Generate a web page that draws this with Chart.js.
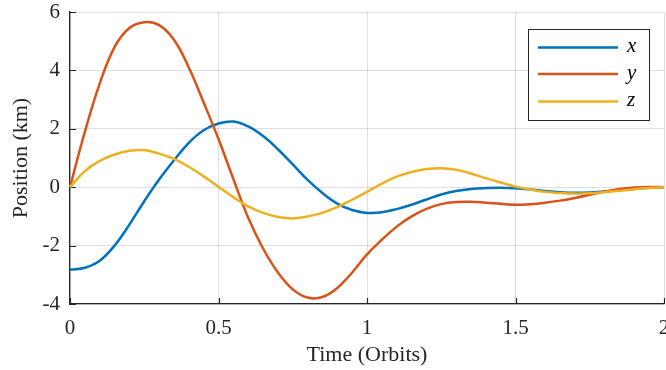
<!DOCTYPE html>
<html>
<head>
<meta charset="utf-8">
<title>Relative position over time</title>
<script src="https://cdn.jsdelivr.net/npm/chart.js@4.4.1/dist/chart.umd.min.js"></script>
<style>
  html, body { margin: 0; padding: 0; background: #ffffff; }
  #wrap { width: 666px; height: 370px; }
</style>
</head>
<body>
<div id="wrap"><canvas id="c" width="666" height="370"></canvas></div>
<script>
// Sample times (orbits) and position components (km)
const times = [0, 0.05, 0.1, 0.15, 0.2, 0.25, 0.3, 0.35, 0.4, 0.45,
               0.5, 0.55, 0.6, 0.65, 0.7, 0.75, 0.8, 0.85, 0.9, 0.95,
               1.0, 1.05, 1.1, 1.15, 1.2, 1.25, 1.3, 1.35, 1.4, 1.45,
               1.5, 1.55, 1.6, 1.65, 1.7, 1.75, 1.8, 1.85, 1.9, 1.95, 2.0];

const xPos = [-2.82, -2.76, -2.52, -2.0, -1.28, -0.48, 0.26, 0.92, 1.52, 1.95,
              2.18, 2.25, 2.08, 1.75, 1.30, 0.78, 0.25, -0.20, -0.56, -0.78,
              -0.88, -0.86, -0.75, -0.60, -0.42, -0.25, -0.13, -0.06, -0.03, -0.02,
              -0.04, -0.08, -0.13, -0.17, -0.19, -0.18, -0.15, -0.10, -0.06, -0.02, 0.0];

const yPos = [0, 1.9, 3.55, 4.8, 5.45, 5.65, 5.55, 5.05, 4.1, 2.9,
              1.65, 0.28, -1.05, -2.1, -2.92, -3.5, -3.78, -3.76, -3.45, -2.92,
              -2.3, -1.8, -1.35, -1.0, -0.74, -0.58, -0.51, -0.5, -0.53, -0.57,
              -0.6, -0.58, -0.53, -0.46, -0.37, -0.26, -0.15, -0.06, -0.01, 0.01, 0.0];

const zPos = [0, 0.55, 0.9, 1.12, 1.25, 1.27, 1.15, 0.97, 0.7, 0.37,
              0.01, -0.34, -0.66, -0.88, -1.02, -1.07, -1.0, -0.88, -0.68, -0.43,
              -0.16, 0.12, 0.36, 0.52, 0.62, 0.65, 0.6, 0.47, 0.31, 0.16,
              0.02, -0.08, -0.16, -0.2, -0.22, -0.21, -0.17, -0.12, -0.07, -0.03, 0.0];

const seriesNames = ['x', 'y', 'z'];
const seriesColors = ['#0072BD', '#D95319', '#EDB120'];
const xTicks = [0, 0.5, 1, 1.5, 2];
const yTicks = [-4, -2, 0, 2, 4, 6];

const serif = '"Liberation Serif", "DejaVu Serif", serif';
const axisColor = '#262626';
const gridColor = 'rgba(38,38,38,0.15)';

function pts(vals) {
  return times.map((t, i) => ({ x: t, y: vals[i] }));
}

// Inward tick marks along the left and bottom axes
const innerTicks = {
  id: 'innerTicks',
  beforeDatasetsDraw(chart) {
    const { ctx, chartArea, scales } = chart;
    const len = 6;
    ctx.save();
    ctx.strokeStyle = axisColor;
    ctx.lineWidth = 1.2;
    ctx.beginPath();
    xTicks.forEach(v => {
      const px = Math.round(scales.x.getPixelForValue(v)) + 0.5;
      ctx.moveTo(px, chartArea.bottom);
      ctx.lineTo(px, chartArea.bottom - len);
    });
    yTicks.forEach(v => {
      const py = Math.round(scales.y.getPixelForValue(v)) + 0.5;
      ctx.moveTo(chartArea.left, py);
      ctx.lineTo(chartArea.left + len, py);
    });
    ctx.stroke();
    ctx.restore();
  }
};

// Boxed legend in the upper right corner of the plot
const boxLegend = {
  id: 'boxLegend',
  afterDraw(chart) {
    const { ctx, chartArea } = chart;
    const right = chartArea.right - 15;
    const top = chartArea.top + 17;
    const w = 121, h = 91;
    const left = right - w;
    ctx.save();
    ctx.fillStyle = '#ffffff';
    ctx.fillRect(left, top, w, h);
    ctx.strokeStyle = axisColor;
    ctx.lineWidth = 1;
    ctx.strokeRect(left + 0.5, top + 0.5, w, h);
    const rows = [top + 18.5, top + 45, top + 72.5];
    chart.data.datasets.forEach((ds, i) => {
      ctx.strokeStyle = ds.borderColor;
      ctx.lineWidth = 2.5;
      ctx.beginPath();
      ctx.moveTo(left + 10, rows[i]);
      ctx.lineTo(left + 90, rows[i]);
      ctx.stroke();
      ctx.fillStyle = '#000000';
      ctx.font = 'italic 21px ' + serif;
      ctx.textBaseline = 'middle';
      ctx.textAlign = 'left';
      ctx.fillText(ds.label, left + 99, rows[i] - 1);
    });
    ctx.restore();
  }
};

const datasets = [xPos, yPos, zPos].map((vals, i) => ({
  label: seriesNames[i],
  data: pts(vals),
  borderColor: seriesColors[i],
  backgroundColor: seriesColors[i],
  borderWidth: 2.5,
  pointRadius: 0,
  fill: false,
  tension: 0.4,
  clip: false,
  order: 2 - i
}));

new Chart(document.getElementById('c'), {
  type: 'line',
  data: { datasets },
  plugins: [innerTicks, boxLegend],
  options: {
    responsive: false,
    animation: false,
    events: [],
    layout: { padding: { top: 12, right: 2, bottom: 0, left: 0 } },
    plugins: {
      legend: { display: false },
      tooltip: { enabled: false },
      title: { display: false }
    },
    scales: {
      x: {
        type: 'linear',
        min: 0,
        max: 2,
        afterBuildTicks(scale) { scale.ticks = xTicks.map(v => ({ value: v })); },
        afterFit(scale) {
          scale.height = 66;
          scale.paddingLeft = 0;
          scale.paddingRight = 0;
        },
        ticks: {
          color: axisColor,
          font: { family: serif, size: 21 },
          padding: 12,
          maxRotation: 0,
          autoSkip: false,
          callback: v => String(v)
        },
        grid: { color: gridColor, lineWidth: 1, drawTicks: false },
        border: { display: true, color: axisColor, width: 1.3 },
        title: {
          display: true,
          text: 'Time (Orbits)',
          color: axisColor,
          font: { family: serif, size: 22 },
          padding: { top: 0, bottom: 2 }
        }
      },
      y: {
        type: 'linear',
        min: -4,
        max: 6,
        afterBuildTicks(scale) { scale.ticks = yTicks.map(v => ({ value: v })); },
        afterFit(scale) {
          scale.width = 70;
          scale.paddingTop = 0;
          scale.paddingBottom = 0;
        },
        ticks: {
          color: axisColor,
          font: { family: serif, size: 21 },
          padding: 10,
          autoSkip: false,
          callback: v => String(v)
        },
        grid: { color: gridColor, lineWidth: 1, drawTicks: false },
        border: { display: true, color: axisColor, width: 1.3 },
        title: {
          display: true,
          text: 'Position (km)',
          color: axisColor,
          font: { family: serif, size: 22 },
          padding: { top: 8, bottom: 0 }
        }
      }
    }
  }
});
</script>
</body>
</html>
